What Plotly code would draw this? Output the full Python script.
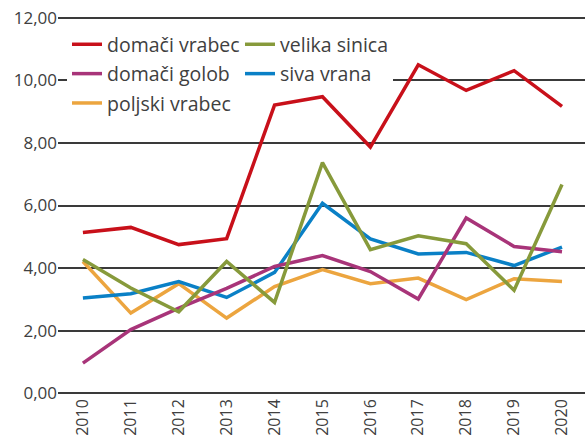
import plotly.graph_objects as go

years = ["2010", "2011", "2012", "2013", "2014", "2015", "2016", "2017", "2018", "2019", "2020"]

domaci_vrabec = [5.14, 5.30, 4.75, 4.94, 9.21, 9.48, 7.87, 10.50, 9.68, 10.31, 9.17]
velika_sinica = [4.27, 3.36, 2.60, 4.21, 2.90, 7.37, 4.59, 5.03, 4.78, 3.29, 6.67]
domaci_golob = [0.96, 2.03, 2.72, 3.35, 4.05, 4.40, 3.89, 3.01, 5.60, 4.69, 4.52]
siva_vrana = [3.04, 3.18, 3.57, 3.06, 3.86, 6.07, 4.93, 4.45, 4.50, 4.08, 4.67]
poljski_vrabec = [4.21, 2.56, 3.50, 2.40, 3.41, 3.95, 3.50, 3.68, 2.99, 3.66, 3.57]

y_ticks = [0, 2, 4, 6, 8, 10, 12]

series = [
    # name, values, colour, legend, rank
    ("poljski vrabec", poljski_vrabec, "#eca53f", "legend2", 3),
    ("siva vrana", siva_vrana, "#0a80c6", "legend", 2),
    ("domači golob", domaci_golob, "#a83479", "legend2", 2),
    ("velika sinica", velika_sinica, "#879a3b", "legend", 1),
    ("domači vrabec", domaci_vrabec, "#c8101a", "legend2", 1),
]

fig = go.Figure()
for name, vals, col, leg, rank in series:
    fig.add_trace(go.Scatter(
        x=years, y=vals, name=name, mode="lines",
        line=dict(color=col, width=3.5),
        legend=leg, legendrank=rank, legendgroup=name,
    ))

font_family = "Open Sans"
text_col = "#404040"

legend_common = dict(
    bgcolor="white", borderwidth=0,
    font=dict(family=font_family, size=19.5, color=text_col),
    yanchor="top", xanchor="left", yref="paper", xref="paper",
    traceorder="grouped", tracegroupgap=1,
)

fig.update_layout(
    width=585, height=443,
    margin=dict(l=58, r=0, t=16, b=48),
    paper_bgcolor="white", plot_bgcolor="white",
    separators=",.",
    font=dict(family=font_family, size=16, color=text_col),
    showlegend=True,
    legend=dict(x=0.3454, y=0.976, **legend_common),
    legend2=dict(x=0.0171, y=0.976, **legend_common),
    xaxis=dict(
        type="category", range=[-0.52, 10.48],
        showgrid=False, showline=False, zeroline=False,
        tickangle=-90, ticks="", tickfont=dict(size=16, color=text_col),
    ),
    yaxis=dict(
        range=[-0.06, 12.06], tickvals=y_ticks, tickformat=".2f",
        showgrid=True, gridcolor="#3a3a3a", gridwidth=1.5,
        zeroline=False, showline=False, ticks="",
        tickfont=dict(size=17, color=text_col),
    ),
)

fig.write_html("out.html", config={"displayModeBar": False},
               post_script="document.body.style.margin='0';")
